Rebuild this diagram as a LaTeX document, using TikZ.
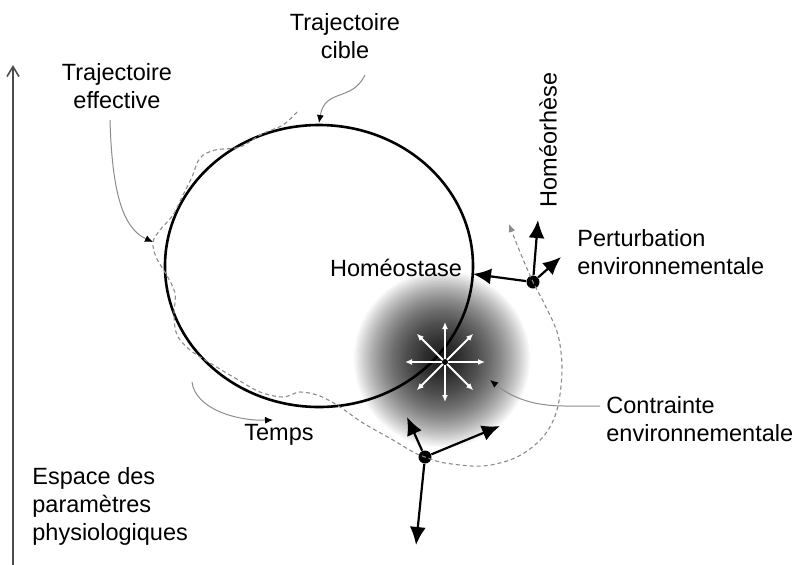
\documentclass[tikz,border=0pt]{standalone}
\usepackage{fontspec}
\setmainfont{Liberation Sans}
\usetikzlibrary{arrows.meta,shapes.geometric}
\begin{document}
\begin{tikzpicture}[x=0.5pt,y=-0.5pt,
  lab/.style={font=\fontsize{11.75}{14}\selectfont, inner sep=0pt},
  pointer/.style={draw=black!45, line width=0.5pt, -{Latex[length=4pt,width=3.5pt,black]}},
  traj/.style={draw=black!45, line width=0.55pt, dash pattern=on 2pt off 1.5pt},
  bigarrow/.style={draw=black, line width=1.1pt, -{Latex[length=9pt,width=8pt]}},
  dotn/.style={circle, fill=black, inner sep=0pt, minimum size=6.5pt},
  ray/.style={draw=white, line width=0.9pt, -{Latex[length=3.5pt,width=3pt]}}]
\useasboundingbox (0,0) rectangle (805,564);
% glow of the environmental constraint
\coordinate (s) at (442,359);
\foreach \i in {1,...,80} {\fill[black, fill opacity=0.03] (s) circle ({44pt*pow(\i/80,1.5)});}
% axis
\coordinate (axb) at (13,566);
\coordinate (axt) at (13,65);
\draw[draw=black!70, line width=0.8pt, -{Straight Barb[length=5pt,width=6pt]}] (axb) -- (axt);
% target trajectory
\node (orbit) [ellipse, draw, line width=1.3pt, minimum width=154pt, minimum height=141pt, inner sep=0pt] at (319,266) {};
% effective trajectory
\node[dotn] (p) at (533,282) {};
\node[dotn] (q) at (425,457) {};
\draw[traj, -{Latex[length=4pt,width=3.5pt]}] plot[smooth, tension=0.55] coordinates {
 (297,112) (283,125) (262,134) (240,147) (215,150) (200,158) (192,177) (183,195)
 (173,215) (160,230) (153,242) (156,257) (166,274) (175,293) (174,315) (177,335)
 (190,350) (210,363) (235,378) (260,392) (283,397) (300,392) (320,396) (340,407)
 (363,423) (393,440) (413,452) (425,457) (445,463) (483,466) (517,457) (543,437)
 (557,410) (562,370) (558,335) (545,305) (533,282) (520,252) (509,224)};
% labels
\node[lab, align=center] (cible) at (345,36) {Trajectoire\\cible};
\node[lab, align=center] (eff) at (117,86) {Trajectoire\\effective};
\node[lab] (homeo) at (396,268) {Homéostase};
\node[lab, rotate=90] (rhese) at (548,140) {Homéorhèse};
\node[lab, align=left, anchor=west] (pert) at (577,252) {Perturbation\\environnementale};
\node[lab, align=left, anchor=west] (contr) at (606,419) {Contrainte\\environnementale};
\node[lab] (temps) at (279,435) {Temps};
\node[lab, align=left, anchor=west] (espace) at (32,506) {Espace des\\paramètres\\physiologiques};
% pointers
\coordinate (c0) at (365,75);
\coordinate (c1) at (319,123);
\draw[pointer] (c0) .. controls (352,102) and (325,88) .. (c1);
\coordinate (e0) at (110,120);
\coordinate (e1) at (153,242);
\draw[pointer] (e0) .. controls (112,190) and (122,228) .. (e1);
\coordinate (t0) at (192,382);
\coordinate (t1) at (273,420);
\draw[pointer] (t0) .. controls (195,408) and (235,421) .. (t1);
\coordinate (k0) at (600,406);
\coordinate (k1) at (490,380);
\draw[pointer] (k0) -- (565,406) .. controls (530,406) and (510,396) .. (k1);
% rays of the constraint
\coordinate (sc) at (445,362);
\foreach \a in {0,45,...,315} {\draw[ray] (sc) -- ++(\a:40);}
\fill[black] (sc) circle (1.5pt);
% perturbation arrows
\coordinate (pL) at (473,274);
\coordinate (pU) at (538,220);
\coordinate (pR) at (561,257);
\draw[bigarrow] (p) -- (pL);
\draw[bigarrow] (p) -- (pU);
\draw[bigarrow] (p) -- (pR);
\coordinate (qU) at (407,417);
\coordinate (qR) at (500,426);
\coordinate (qD) at (416,545);
\draw[bigarrow] (q) -- (qU);
\draw[bigarrow] (q) -- (qR);
\draw[bigarrow] (q) -- (qD);
\end{tikzpicture}
\end{document}
